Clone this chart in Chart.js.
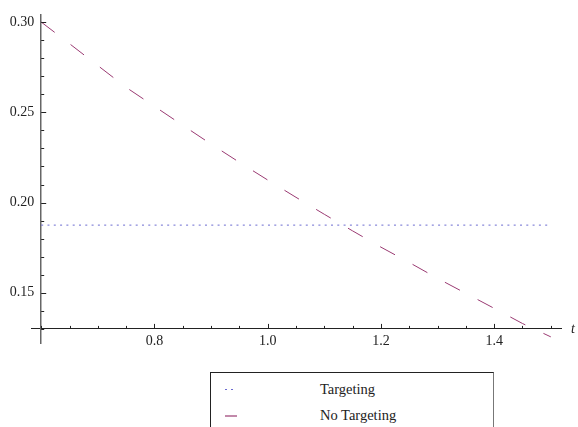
<!DOCTYPE html>
<html>
<head>
<meta charset="utf-8">
<title>Targeting vs No Targeting</title>
<script src="https://cdn.jsdelivr.net/npm/chart.js@4/dist/chart.umd.min.js"></script>
<style>
  html, body { margin: 0; padding: 0; background: #fff; }
  #wrap { position: relative; width: 578px; height: 427px; overflow: hidden; }
  #legend {
    position: absolute; left: 210px; top: 372px; width: 282px; height: 70px;
    border: 1px solid #222; border-right-color: #777; background: #fff;
    font-family: "Liberation Serif", "DejaVu Serif", serif; font-size: 14.5px; color: #222;
  }
  .row { position: absolute; left: 0; height: 16px; line-height: 16px; }
  .row span.txt { position: absolute; left: 109px; white-space: nowrap; }
  .sw { position: absolute; left: 14px; top: 8px; height: 1px; }
</style>
</head>
<body>
<div id="wrap">
  <canvas id="chart" width="578" height="427"></canvas>
  <div id="legend"></div>
</div>
<script>
// data
const tValues = [0.60, 0.65, 0.70, 0.75, 0.80, 0.85, 0.90, 0.95, 1.00, 1.05,
                 1.10, 1.15, 1.20, 1.25, 1.30, 1.35, 1.40, 1.45, 1.50];
const noTargeting = [0.3000, 0.2880, 0.2759, 0.2638, 0.2533, 0.2428, 0.2324, 0.2223, 0.2125, 0.2029,
                     0.1935, 0.1843, 0.1753, 0.1668, 0.1580, 0.1497, 0.1414, 0.1330, 0.1256];
const tTargeting = [0.60, 1.50];
const targeting = [0.1875, 0.1875];

const seriesNames = ['Targeting', 'No Targeting'];
const xTickLabels = [0.8, 1.0, 1.2, 1.4];
const yTickLabels = [0.15, 0.20, 0.25, 0.30];
const xMinorStep = 0.05;
const yMinorStep = 0.01;

const colTarget = '#6a6ad0';
const colNoTarget = '#9a3a72';
const serif = '"Liberation Serif", "DejaVu Serif", serif';

function toPoints(xs, ys){ return xs.map((x,i)=>({x:x, y:ys[i]})); }

// minor + major tick marks pointing inward, Mathematica style
const mmaTicks = {
  id: 'mmaTicks',
  afterDraw(chart){
    const {ctx, scales:{x, y}} = chart;
    const axisY = y.getPixelForValue(0.13);
    const axisX = x.getPixelForValue(0.6);
    ctx.save();
    ctx.strokeStyle = '#222';
    ctx.lineWidth = 1;
    ctx.beginPath();
    for(let v = 0.6; v <= 1.5 + 1e-9; v += xMinorStep){
      const major = xTickLabels.some(m => Math.abs(m - v) < 1e-6);
      const px = Math.round(x.getPixelForValue(v)) + 0.5;
      ctx.moveTo(px, axisY);
      ctx.lineTo(px, axisY - (major ? 5 : 3));
    }
    for(let v = 0.13; v <= 0.30 + 1e-9; v += yMinorStep){
      const major = yTickLabels.some(m => Math.abs(m - v) < 1e-6);
      const py = Math.round(y.getPixelForValue(v)) + 0.5;
      ctx.moveTo(axisX, py);
      ctx.lineTo(axisX + (major ? 5 : 3), py);
    }
    ctx.stroke();
    // axis label
    ctx.fillStyle = '#222';
    ctx.font = 'italic 14px ' + serif;
    ctx.textBaseline = 'middle';
    ctx.textAlign = 'left';
    ctx.fillText('t', x.right + 10, axisY);
    ctx.restore();
  }
};

const chart = new Chart(document.getElementById('chart'), {
  type: 'line',
  data: {
    datasets: [
      {
        label: seriesNames[0],
        data: toPoints(tTargeting, targeting),
        borderColor: colTarget,
        borderWidth: 1,
        borderDash: [2, 4.3],
        pointRadius: 0,
        fill: false
      },
      {
        label: seriesNames[1],
        data: toPoints(tValues, noTargeting),
        borderColor: colNoTarget,
        borderWidth: 1,
        borderDash: [17, 20],
        pointRadius: 0,
        fill: false,
        tension: 0
      }
    ]
  },
  options: {
    responsive: false,
    animation: false,
    layout: { padding: { left: 31, right: 17, top: 15, bottom: 84 } },
    plugins: { legend: { display: false }, tooltip: { enabled: false } },
    scales: {
      x: {
        type: 'linear',
        position: { y: 0.13 },
        min: 0.582, max: 1.518,
        afterBuildTicks: s => { s.ticks = xTickLabels.map(v => ({value: v})); },
        grid: { display: false, drawTicks: false },
        border: { display: true, color: '#222', width: 1 },
        ticks: {
          padding: 4, color: '#222', maxRotation: 0,
          font: { family: serif, size: 14 },
          callback: v => v.toFixed(1)
        }
      },
      y: {
        type: 'linear',
        position: { x: 0.6 },
        min: 0.1222, max: 0.3039,
        afterBuildTicks: s => { s.ticks = yTickLabels.map(v => ({value: v})); },
        grid: { display: false, drawTicks: false },
        border: { display: true, color: '#666', width: 1.5 },
        ticks: {
          color: '#222',
          font: { family: serif, size: 14 },
          callback: v => v.toFixed(2) + '\u2002'
        }
      }
    }
  },
  plugins: [mmaTicks]
});

// legend box
const legend = document.getElementById('legend');
chart.data.datasets.forEach((ds, i) => {
  const row = document.createElement('div');
  row.className = 'row';
  row.style.top = (i === 0 ? 8 : 34) + 'px';
  row.style.width = '100%';
  const sw = document.createElement('div');
  sw.className = 'sw';
  if(i === 0){
    sw.style.width = '9px';
    sw.style.background = 'repeating-linear-gradient(to right, ' + ds.borderColor + ' 0 2px, transparent 2px 6px)';
  } else {
    sw.style.width = '12px';
    sw.style.background = ds.borderColor;
    sw.style.opacity = '0.6';
    sw.style.height = '2px';
  }
  const txt = document.createElement('span');
  txt.className = 'txt';
  txt.textContent = ds.label;
  row.appendChild(sw);
  row.appendChild(txt);
  legend.appendChild(row);
});
</script>
</body>
</html>
